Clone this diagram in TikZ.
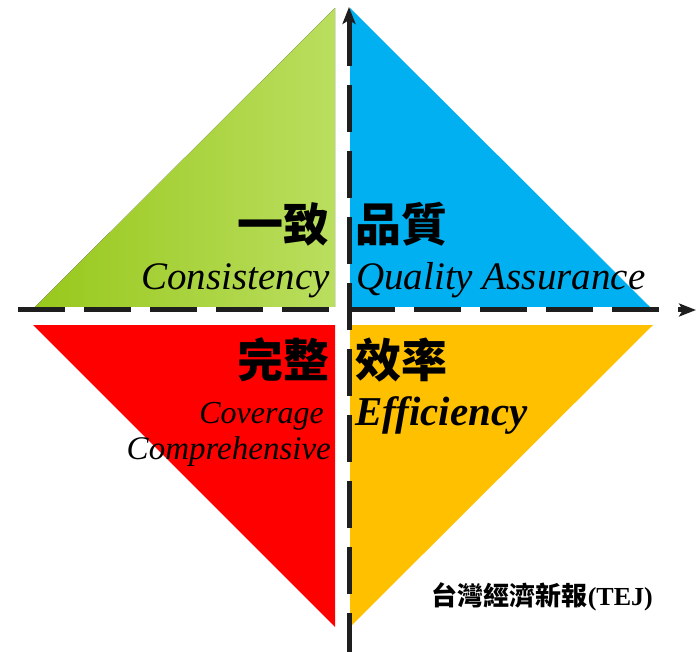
\documentclass[tikz,border=0pt]{standalone}
\usepackage{fontspec}
\setmainfont{Liberation Serif}
\newfontfamily\cjk{Noto Sans CJK TC}
\usetikzlibrary{arrows.meta}
\definecolor{gdark}{RGB}{152,200,28}
\definecolor{glight}{RGB}{186,222,95}
\definecolor{qblue}{RGB}{0,176,240}
\definecolor{qred}{RGB}{255,0,0}
\definecolor{qyellow}{RGB}{255,192,0}
\definecolor{axisgray}{RGB}{30,30,30}
\tikzset{
  axisline/.style={draw=axisgray, line width=5pt, dash pattern=on 47pt off 19pt,
    -{Stealth[length=17pt,width=13pt,inset=4pt]}},
  cjklabel/.style={inner sep=0pt, font=\cjk\bfseries\fontsize{46}{50}\selectfont},
  enlabel/.style={inner sep=0pt, font=\itshape\fontsize{39}{44}\selectfont},
  smalllabel/.style={inner sep=0pt, font=\itshape\fontsize{31}{36}\selectfont},
}
\begin{document}
\begin{tikzpicture}[x=1pt,y=-1pt]
\useasboundingbox (0,0) rectangle (696,652);
% quadrant triangles
\fill[left color=gdark, right color=glight] (335,8) -- (335,307) -- (35,307) -- cycle;
\fill[qblue] (350,8) -- (350,307) -- (650,307) -- cycle;
\fill[qred] (33,325) -- (335,325) -- (335,627) -- cycle;
\fill[qyellow] (350,325) -- (653,325) -- (350,627) -- cycle;
% axes
\coordinate (xs) at (18,310);
\coordinate (xe) at (696,310);
\coordinate (ys) at (349,660);
\coordinate (ye) at (349,7);
\draw[axisline] (xs) -- (xe);
\draw[axisline] (ys) -- (ye);
% labels
\node[cjklabel, anchor=base east] (c1) at (330,242) {一致};
\node[enlabel, anchor=base east] (e1) at (330,290) {Consistency};
\node[cjklabel, anchor=base west] (c2) at (355,242) {品質};
\node[enlabel, anchor=base west] (e2) at (356,290) {Quality Assurance};
\node[cjklabel, anchor=base east] (c3) at (330,377) {完整};
\node[smalllabel, anchor=base east, font=\itshape\fontsize{32}{36}\selectfont] (e3a) at (324,423) {Coverage};
\node[smalllabel, anchor=base east, font=\itshape\fontsize{33}{36}\selectfont] (e3b) at (331,459) {Comprehensive};
\node[cjklabel, anchor=base west] (c4) at (355,377) {效率};
\node[inner sep=0pt, anchor=base west, font=\bfseries\itshape\fontsize{41}{44}\selectfont] (e4) at (355,425) {Efficiency};
\node[inner sep=0pt, anchor=base east] (src) at (653,605) {{\cjk\bfseries\fontsize{26}{28}\selectfont 台灣經濟新報}{\bfseries\fontsize{26}{28}\selectfont (TEJ)}};
\end{tikzpicture}
\end{document}
